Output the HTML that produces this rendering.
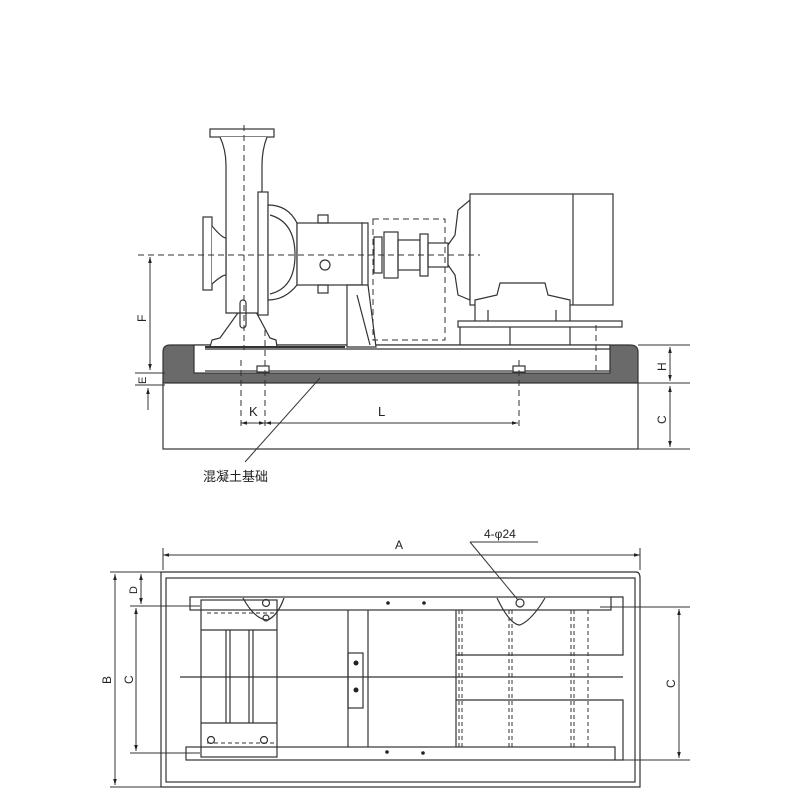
<!DOCTYPE html>
<html><head><meta charset="utf-8"><style>
html,body{margin:0;padding:0;background:#fff}
svg{display:block}
text{font-family:"Liberation Sans","Noto Sans CJK SC",sans-serif;fill:#222}
</style></head><body>
<svg width="800" height="800" viewBox="0 0 800 800" xmlns="http://www.w3.org/2000/svg">
<defs>
<marker id="ar" viewBox="0 0 10 10" refX="10" refY="5" markerWidth="6" markerHeight="6" orient="auto-start-reverse"><path d="M0,2 L10,5 L0,8 z" fill="#222"/></marker>
</defs>
<g stroke="#333" stroke-width="1.2" fill="none">
<!-- concrete foundation -->
<path d="M163,383 L163,352 Q163,345 170,345 L630,345 Q638,345 638,352 L638,383 Z" fill="#6a6a6a"/>
<rect x="194" y="345" width="416" height="28" fill="#fff"/>
<rect x="163" y="383" width="475" height="66" fill="#fff"/>
<line x1="205" y1="349" x2="610" y2="349"/>
<line x1="205" y1="371" x2="610" y2="371"/>
<rect x="257" y="366" width="12" height="6" fill="#fff"/>
<rect x="513" y="366" width="12" height="6" fill="#fff"/>
<!-- pump feet -->
<path d="M210,347 L212,340 L220,338 L240,310 L248,300 L255,310 L270,338 L276,340 L277,347 Z" fill="#fff"/>
<line x1="205" y1="347" x2="345" y2="347" stroke-width="2"/>
<!-- discharge pipe -->
<rect x="210" y="129" width="64" height="8" fill="#fff"/>
<path d="M220,137 Q226,150 226,165 L226,313 L262,313 L262,165 Q262,150 267,137" fill="#fff"/>
<rect x="240" y="300" width="6" height="28" rx="3"/>
<!-- suction -->
<rect x="203" y="217" width="9" height="73" fill="#fff"/>
<path d="M212,226 Q222,238 226,238 L226,275 Q222,275 212,284" fill="#fff"/>
<!-- cover -->
<rect x="258" y="192" width="10" height="123" fill="#fff"/>
<!-- bracket -->
<path d="M268,205 Q288,205 297,223 L297,285 Q285,300 268,300 Z" fill="#fff"/>
<path d="M270,215 Q295,222 295,255 Q295,288 270,294"/>
<rect x="297" y="223" width="66" height="62" fill="#fff"/>
<rect x="318" y="215" width="10" height="8"/>
<rect x="318" y="285" width="10" height="8"/>
<circle cx="325" cy="265" r="5"/>
<rect x="362" y="223" width="6" height="64" fill="#fff"/>
<!-- pedestal -->
<path d="M347,285 L368,285 L376,347 L347,347 Z" fill="#fff"/>
<line x1="357" y1="295" x2="370" y2="345"/>
<!-- coupling -->
<rect x="374" y="237" width="8" height="36"/>
<rect x="384" y="232" width="14" height="46" fill="#fff"/>
<rect x="398" y="240" width="22" height="30"/>
<rect x="420" y="234" width="8" height="42" fill="#fff"/>
<rect x="428" y="243" width="20" height="24"/>
<!-- motor -->
<path d="M448,245 L455,235 L458,210 L470,200 L470,300 L458,295 L455,275 L448,265 Z" fill="#fff"/>
<rect x="470" y="194" width="143" height="111" fill="#fff"/>
<line x1="573" y1="194" x2="573" y2="305"/>
<path d="M475,305 L475,300 L497,295 L500,283 L545,283 L548,295 L570,300 L570,323 L475,323 Z" fill="#fff"/>
<line x1="488" y1="310" x2="488" y2="323"/><line x1="556" y1="310" x2="556" y2="323"/>
<rect x="458" y="321" width="164" height="6" fill="#fff"/>
<line x1="460" y1="327" x2="460" y2="345"/><line x1="510" y1="327" x2="510" y2="345"/><line x1="570" y1="327" x2="570" y2="345"/>
</g>
<!-- dashed lines top -->
<g stroke="#333" stroke-width="1" fill="none" stroke-dasharray="6,4">
<rect x="373" y="219" width="72" height="121"/>
<line x1="138" y1="255" x2="480" y2="255"/>
<line x1="244" y1="125" x2="244" y2="350"/>
<line x1="241" y1="360" x2="241" y2="430"/>
<line x1="265" y1="330" x2="265" y2="430"/>
<line x1="519" y1="360" x2="519" y2="430"/>
<line x1="596" y1="325" x2="596" y2="375"/>
</g>
<g stroke="#333" stroke-width="1" fill="none">
<line x1="150" y1="257" x2="150" y2="370" marker-start="url(#ar)" marker-end="url(#ar)"/>
<line x1="135" y1="373" x2="165" y2="373"/><line x1="135" y1="385" x2="165" y2="385"/>
<line x1="148" y1="388" x2="148" y2="410" marker-start="url(#ar)"/>
<line x1="241" y1="423" x2="265" y2="423" marker-start="url(#ar)" marker-end="url(#ar)"/>
<line x1="265" y1="423" x2="518" y2="423" marker-start="url(#ar)" marker-end="url(#ar)"/>
<line x1="638" y1="345" x2="690" y2="345"/><line x1="638" y1="383" x2="690" y2="383"/><line x1="638" y1="449" x2="690" y2="449"/>
<line x1="670" y1="347" x2="670" y2="381" marker-start="url(#ar)" marker-end="url(#ar)"/>
<line x1="670" y1="386" x2="670" y2="447" marker-start="url(#ar)" marker-end="url(#ar)"/>
<line x1="245" y1="462" x2="320" y2="378"/>
</g>
<text x="146" y="322" font-size="12" transform="rotate(-90 146 322)">F</text>
<text x="146" y="384" font-size="11" transform="rotate(-90 146 384)">E</text>
<text x="249" y="416" font-size="13">K</text>
<text x="378" y="416" font-size="13">L</text>
<text x="666" y="371" font-size="12" transform="rotate(-90 666 371)">H</text>
<text x="666" y="424" font-size="12" transform="rotate(-90 666 424)">C</text>
<text x="203" y="481" font-size="13">混凝土基础</text>

<!-- plan view -->
<g stroke="#333" stroke-width="1.2" fill="none">
<path d="M161,572 L636,572 Q640,572 640,578 L640,787 L161,787 Z"/>
<rect x="166" y="578" width="469" height="204"/>
<rect x="190" y="597" width="421" height="13"/>
<path d="M611,597 L623,597 L623,655 L456,655"/>
<path d="M456,700 L623,700 L623,760 L615,760"/>
<rect x="186" y="747" width="429" height="13"/>
<rect x="201" y="600" width="76" height="157"/>
<line x1="201" y1="630" x2="277" y2="630"/><line x1="201" y1="723" x2="277" y2="723"/>
<line x1="226" y1="630" x2="226" y2="723"/><line x1="230" y1="630" x2="230" y2="723"/>
<line x1="249" y1="630" x2="249" y2="723"/><line x1="253" y1="630" x2="253" y2="723"/>
<path d="M243,598 Q255,620 268,620 Q278,615 284,598"/>
<path d="M497,598 Q510,625 520,625 Q532,620 545,598"/>
<circle cx="266" cy="603" r="3.5"/><circle cx="266" cy="618" r="3"/>
<circle cx="520" cy="603" r="4"/>
<circle cx="211" cy="740" r="3.5"/><circle cx="264" cy="740" r="3.5"/>
<line x1="348" y1="610" x2="348" y2="747"/><line x1="368" y1="610" x2="368" y2="747"/>
<rect x="348" y="653" width="15" height="55"/>
<line x1="456" y1="610" x2="456" y2="747"/>
<line x1="180" y1="677" x2="623" y2="677"/>
<line x1="176" y1="585" x2="176" y2="585"/>
</g>
<g fill="#222"><circle cx="388" cy="603" r="1.8"/><circle cx="424" cy="603" r="1.8"/><circle cx="387" cy="752" r="1.8"/><circle cx="423" cy="753" r="1.8"/><circle cx="356" cy="663" r="2.5"/><circle cx="356" cy="690" r="2.5"/></g>
<g stroke="#333" stroke-width="1" stroke-dasharray="4,3" fill="none">
<line x1="207" y1="613" x2="277" y2="613"/><line x1="207" y1="743" x2="277" y2="743"/>
<line x1="459" y1="610" x2="459" y2="747"/><line x1="462" y1="610" x2="462" y2="747"/>
<line x1="509" y1="610" x2="509" y2="747"/><line x1="512" y1="610" x2="512" y2="747"/>
<line x1="571" y1="610" x2="571" y2="747"/><line x1="574" y1="610" x2="574" y2="747"/>
<line x1="588" y1="610" x2="588" y2="747"/>
</g>
<g stroke="#333" stroke-width="1" fill="none">
<line x1="163" y1="555" x2="640" y2="555" marker-start="url(#ar)" marker-end="url(#ar)"/>
<line x1="163" y1="548" x2="163" y2="570"/><line x1="640" y1="548" x2="640" y2="570"/>
<line x1="470" y1="542" x2="538" y2="542"/><line x1="470" y1="542" x2="518" y2="600"/>
<line x1="110" y1="572" x2="161" y2="572"/><line x1="110" y1="787" x2="161" y2="787"/>
<line x1="130" y1="606" x2="200" y2="606"/><line x1="130" y1="753" x2="200" y2="753"/>
<line x1="115" y1="574" x2="115" y2="785" marker-start="url(#ar)" marker-end="url(#ar)"/>
<line x1="136" y1="608" x2="136" y2="751" marker-start="url(#ar)" marker-end="url(#ar)"/>
<line x1="141" y1="574" x2="141" y2="604" marker-start="url(#ar)" marker-end="url(#ar)"/>
<line x1="600" y1="607" x2="690" y2="607"/><line x1="610" y1="760" x2="690" y2="760"/>
<line x1="679" y1="609" x2="679" y2="758" marker-start="url(#ar)" marker-end="url(#ar)"/>
</g>
<text x="395" y="549" font-size="12">A</text>
<text x="484" y="538" font-size="12">4-φ24</text>
<text x="111" y="684" font-size="12" transform="rotate(-90 111 684)">B</text>
<text x="133" y="684" font-size="12" transform="rotate(-90 133 684)">C</text>
<text x="137" y="594" font-size="11" transform="rotate(-90 137 594)">D</text>
<text x="675" y="688" font-size="12" transform="rotate(-90 675 688)">C</text>
</svg>
</body></html>
